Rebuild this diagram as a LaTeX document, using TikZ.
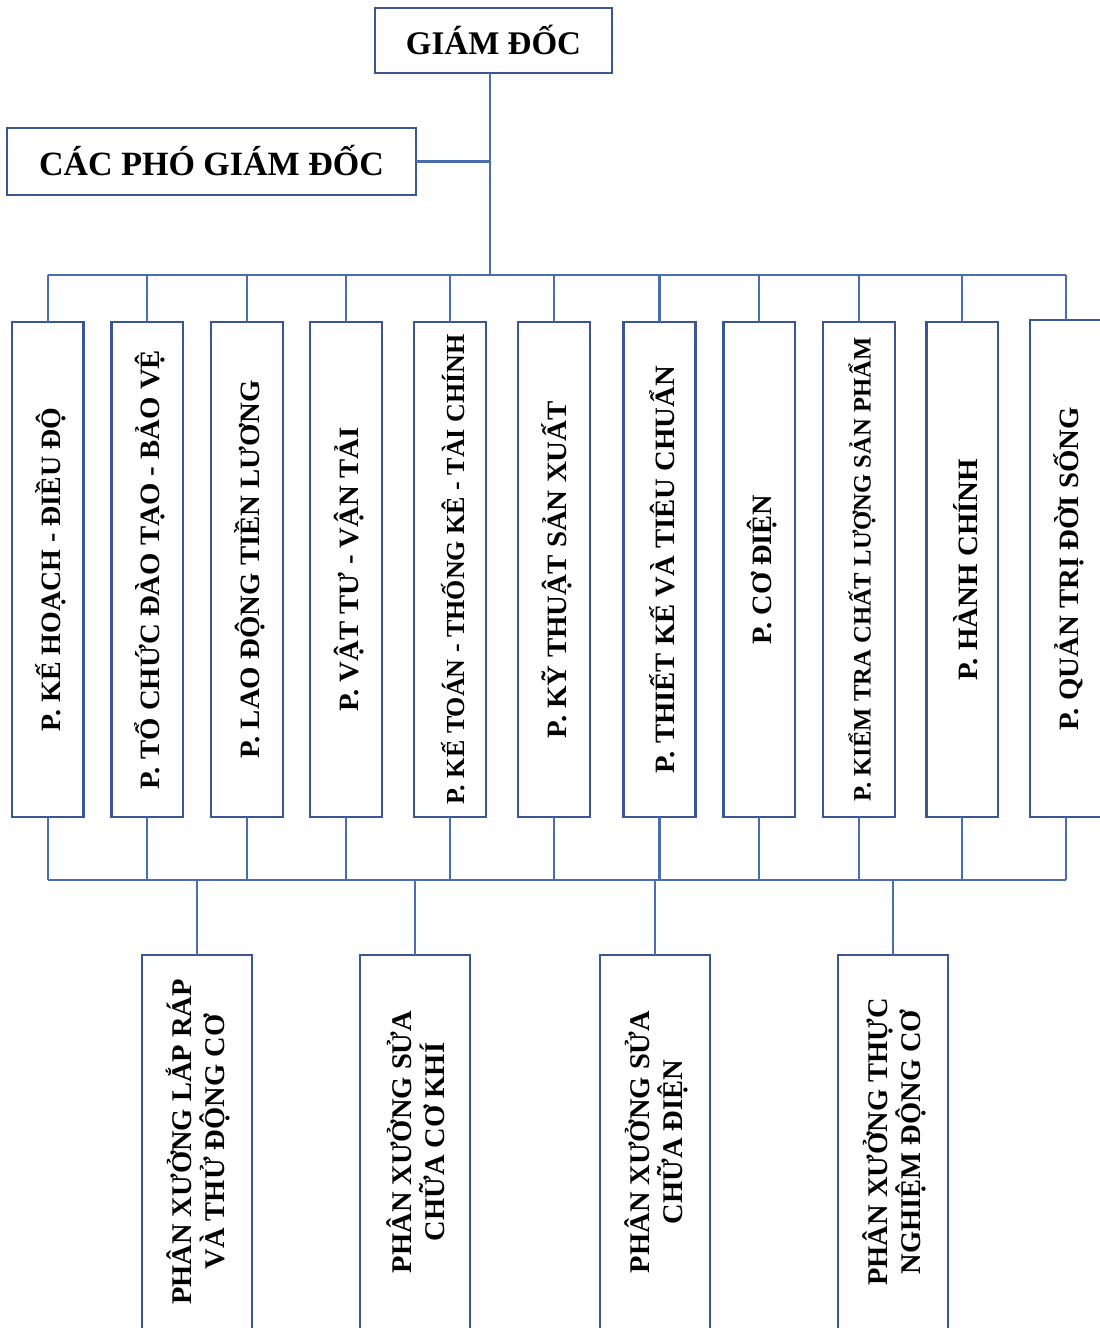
\documentclass[tikz,border=0pt]{standalone}
\usepackage{fontspec}
\setmainfont{Liberation Serif}
\usepackage{graphicx}
\usetikzlibrary{calc}
\definecolor{lineblue}{RGB}{74,108,176}
\definecolor{boxblue}{RGB}{58,86,148}
\begin{document}
\begin{tikzpicture}[x=1pt,y=-1pt,
  frame/.style={draw=boxblue, line width=2.4pt, fill=white, inner sep=0pt, outer sep=0pt},
  link/.style={draw=lineblue, line width=2.2pt},
  headtext/.style={inner sep=0pt, font=\bfseries},
  vlabel/.style={rotate=90, inner sep=0pt, align=center},
]
\useasboundingbox (0,0) rectangle (1100,1328);
\fill[white] (0,0) rectangle (1100,1328);

% bus coordinates
\coordinate (busT) at (490,275);
\coordinate (busB) at (490,880);

% director and deputies
\node[frame, minimum width=237pt, minimum height=65pt] (gd) at (493.5,40.5) {};
\node[headtext, font=\bfseries\fontsize{33}{36}\selectfont] (gdt) at (493.5,40) {GIÁM ĐỐC};
\node[frame, minimum width=409pt, minimum height=67pt] (pgd) at (211.5,161.5) {};
\node[headtext, font=\bfseries\fontsize{34}{38}\selectfont] (pgdt) at (211.5,161) {CÁC PHÓ GIÁM ĐỐC};

% departments
\foreach \n/\l/\r/\t/\len/\fs/\txt in {
  1/12/83.5/322/323/28/{P. KẾ HOẠCH - ĐIỀU ĐỘ},
  2/111.5/183/322/439/28/{P. TỔ CHỨC ĐÀO TẠO - BẢO VỆ},
  3/211/283/322/378/28/{P. LAO ĐỘNG TIỀN LƯƠNG},
  4/310/382/322/284/28/{P. VẬT TƯ - VẬN TẢI},
  5/414/486/322/470/26/{P. KẾ TOÁN - THỐNG KÊ - TÀI CHÍNH},
  6/518/590/322/337/28/{P. KỸ THUẬT SẢN XUẤT},
  7/623.5/695.5/322/407/28/{P. THIẾT KẾ VÀ TIÊU CHUẨN},
  8/723.5/795/322/150/28/{P. CƠ ĐIỆN},
  9/823/895/322/464/25/{P. KIỂM TRA CHẤT LƯỢNG SẢN PHẨM},
  10/926.5/998/322/221/28/{P. HÀNH CHÍNH},
  11/1030/1102/320/323/28/{P. QUẢN TRỊ ĐỜI SỐNG}}{
  \pgfmathsetmacro{\cx}{(\l+\r)/2}
  \pgfmathsetmacro{\cy}{(\t+817)/2}
  \pgfmathsetmacro{\w}{\r-\l}
  \pgfmathsetmacro{\h}{817-\t}
  \node[frame, minimum width=\w pt, minimum height=\h pt] (d\n) at (\cx,\cy) {};
  \node[vlabel, font=\bfseries\fontsize{\fs}{\fs}\selectfont] (dt\n) at ($(d\n.center)+(3,0)$)
    {\resizebox{\len pt}{\height}{\txt}};
}

% workshops
\foreach \n/\l/\r/\txt in {
  1/142/252/{PHÂN XƯỞNG LẮP RÁP\\VÀ THỬ ĐỘNG CƠ},
  2/360/470/{PHÂN XƯỞNG SỬA\\CHỮA CƠ KHÍ},
  3/600/710/{PHÂN XƯỞNG SỬA\\CHỮA ĐIỆN},
  4/838/948/{PHÂN XƯỞNG THỰC\\NGHIỆM ĐỘNG CƠ}}{
  \pgfmathsetmacro{\cx}{(\l+\r)/2}
  \pgfmathsetmacro{\w}{\r-\l}
  \node[frame, minimum width=\w pt, minimum height=377pt] (w\n) at (\cx,1143.5) {};
  \node[vlabel, font=\bfseries\fontsize{28.5}{33}\selectfont] (wt\n) at (\cx+1,1142) {\txt};
}

% connectors
\draw[link] (busT |- gd.south) -- (busT);
\draw[link] (pgd.east) -- (pgd.east -| busT);
\draw[link] (d1.north |- busT) -- (d11.north |- busT);
\draw[link] (d1.south |- busB) -- (d11.south |- busB);
\foreach \n in {1,...,11}{
  \draw[link] (d\n.north |- busT) -- (d\n.north);
  \draw[link] (d\n.south) -- (d\n.south |- busB);
}
\foreach \n in {1,...,4}{
  \draw[link] (w\n.north |- busB) -- (w\n.north);
}
\end{tikzpicture}
\end{document}
